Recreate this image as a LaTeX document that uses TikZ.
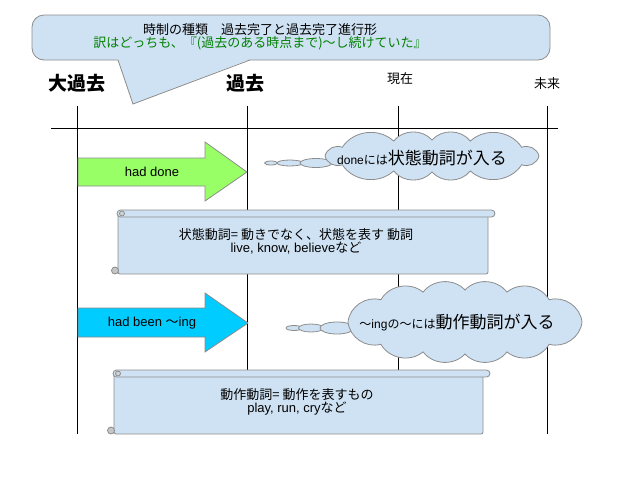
\documentclass[tikz,border=0pt]{standalone}
\usepackage{fontspec}
\setmainfont{Liberation Sans}
\newfontfamily\jp{Noto Sans CJK JP}
\usepackage{tikz}
\usetikzlibrary{shapes,arrows,positioning,calc}
\definecolor{paleblue}{RGB}{207,226,243}
\definecolor{lightgreen}{RGB}{153,255,102}
\definecolor{skycyan}{RGB}{0,204,255}
\definecolor{titlegreen}{RGB}{0,128,0}
\definecolor{edgegray}{RGB}{140,140,140}

\tikzset{
  axisline/.style={line width=0.8pt},
  bubble/.style={draw=edgegray, fill=paleblue, line width=0.8pt},
  scrollpart/.style={draw=edgegray, fill=paleblue, line width=0.8pt},
  fatarrow/.style={draw=edgegray, line width=0.8pt},
  puff/.style={bend left=50},
  bigword/.style={font=\jp\fontsize{19}{22}\selectfont\bfseries},
  smallword/.style={font=\jp\fontsize{13}{15}\selectfont}
}

% scroll: left, top, right, bottom
\newcommand{\scrollshape}[4]{%
  \draw[scrollpart, rounded corners=2pt] (#1,#2+3.5) rectangle (#3-7,#4);
  \draw[scrollpart, rounded corners=3.5pt] (#1-1,#2) rectangle (#3,#2+7);
  \draw[scrollpart, fill=gray!35] (#1+4,#2+3.5) circle (2.5pt);
  \draw[scrollpart, fill=gray!45] (#1-3,#4-3.5) circle (3.5pt);
}

\begin{document}
\begin{tikzpicture}[x=1pt, y=-1pt]
\useasboundingbox (0,0) rectangle (640,480);

% timeline
\draw[axisline] (51,128) -- (558,128);
\foreach \xpos in {77,247,398,547}
  \draw[axisline] (\xpos,106) -- (\xpos,434);

% title callout
\draw[bubble, rounded corners=12pt] (32,15) rectangle (550,60);
\fill[paleblue] (117.5,59) -- (133,104) -- (250.5,59) -- cycle;
\draw[draw=edgegray, line width=0.8pt] (118,60) -- (133,104) -- (250,60);
\node (title) [align=center, font=\jp\fontsize{13}{11.5}\selectfont] at (260,37)
  {時制の種類　過去完了と過去完了進行形\\\color{titlegreen}訳はどっちも、『(過去のある時点まで)～し続けていた』};

% time labels
\node (daikako) [bigword] at (77,83) {大過去};
\node (kako) [bigword] at (245,83) {過去};
\node (genzai) [smallword] at (400,79) {現在};
\node (mirai) [smallword] at (547,84) {未来};

% had done
\draw[fatarrow, fill=lightgreen] (78,158) -- (205,158) -- (205,142) -- (247,172)
  -- (205,201) -- (205,186) -- (78,186) -- cycle;
\node (hadDone) [font=\fontsize{13}{15}\selectfont] at (152,172) {had done};

\draw[bubble] (271,163) ellipse [x radius=6.5pt, y radius=2pt];
\draw[bubble] (290,163) ellipse [x radius=13pt, y radius=3pt];
\draw[bubble] (316,163) ellipse [x radius=16pt, y radius=4.5pt];
\coordinate (cloudDone) at (432,156);
\draw[bubble] ($(cloudDone)+(0:107 and 16)$)
  \foreach \t in {33,69,90,111,147,180,213,249,270,291,327,360}
    { to[puff] ($(cloudDone)+(\t:107 and 16)$) };
\node (doneNote) at (422,158)
  {\fontsize{12}{14}\selectfont done{\jp には}{\jp\fontsize{17}{20}\selectfont 状態動詞が入る}};

\scrollshape{118}{210}{495}{274}
\node (stateNote) [align=center, font=\fontsize{13}{13}\selectfont] at (296,241.5)
  {{\jp 状態動詞= 動きでなく、状態を表す 動詞}\\live, know, believe{\jp など}};

% had been ~ing
\draw[fatarrow, fill=skycyan] (78,308) -- (205,308) -- (205,293) -- (248,323)
  -- (205,352) -- (205,337) -- (78,337) -- cycle;
\node (hadBeen) [font=\fontsize{13}{15}\selectfont] at (152,323) {had been {\jp ～}ing};

\draw[bubble] (294,328) ellipse [x radius=8pt, y radius=2.5pt];
\draw[bubble] (311,328) ellipse [x radius=12.5pt, y radius=4pt];
\draw[bubble] (337,328) ellipse [x radius=17pt, y radius=6pt];
\coordinate (cloudIng) at (465,322);
\draw[bubble] ($(cloudIng)+(0:117 and 32)$)
  \foreach \t in {44,69,90,111,136,180,224,249,270,291,316,360}
    { to[puff] ($(cloudIng)+(\t:117 and 32)$) };
\node (ingNote) at (457,323)
  {\fontsize{12}{14}\selectfont{\jp ～}ing{\jp の～には}{\jp\fontsize{17}{20}\selectfont 動作動詞が入る}};

\scrollshape{114}{370}{490}{434}
\node (actionNote) [align=center, font=\fontsize{13}{13}\selectfont] at (297,401.5)
  {{\jp 動作動詞= 動作を表すもの}\\play, run, cry{\jp など}};
\end{tikzpicture}
\end{document}
